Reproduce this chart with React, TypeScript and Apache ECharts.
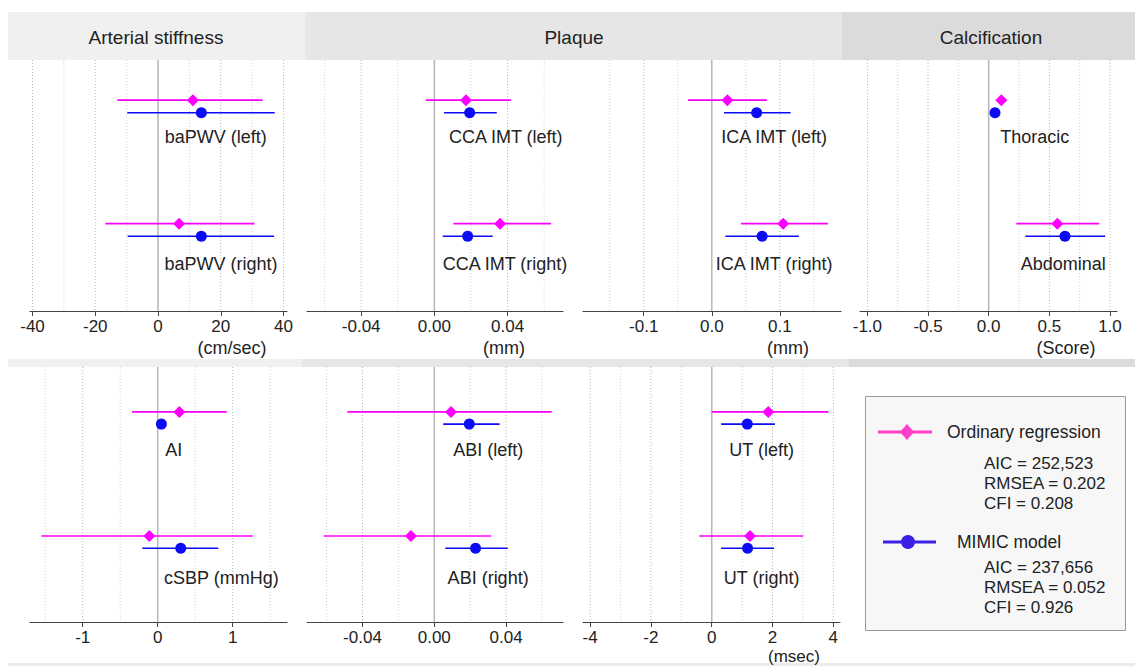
import React, { useEffect, useRef } from 'react';
import * as echarts from 'echarts';

const FONT = 'Liberation Sans, Arial, sans-serif';
const OR_COLOR = '#ff00ff';
const MM_COLOR = '#0c0cf2';

// ---------- data ----------
// Arterial stiffness (cm/sec)
const baLabels = ['baPWV (left)', 'baPWV (right)'];
const baOrEst = [11.1, 6.7];
const baOrLo = [-13.0, -16.8];
const baOrHi = [33.3, 30.7];
const baMmEst = [13.8, 13.8];
const baMmLo = [-9.8, -9.7];
const baMmHi = [37.2, 37.0];

// Plaque CCA IMT (mm)
const ccaLabels = ['CCA IMT (left)', 'CCA IMT (right)'];
const ccaOrEst = [0.0173, 0.0359];
const ccaOrLo = [-0.0047, 0.0104];
const ccaOrHi = [0.0419, 0.0638];
const ccaMmEst = [0.0193, 0.0182];
const ccaMmLo = [0.0053, 0.0046];
const ccaMmHi = [0.0341, 0.0319];

// Plaque ICA IMT (mm)
const icaLabels = ['ICA IMT (left)', 'ICA IMT (right)'];
const icaOrEst = [0.023, 0.105];
const icaOrLo = [-0.035, 0.043];
const icaOrHi = [0.081, 0.171];
const icaMmEst = [0.066, 0.074];
const icaMmLo = [0.018, 0.02];
const icaMmHi = [0.116, 0.128];

// Calcification (Score)
const calLabels = ['Thoracic', 'Abdominal'];
const calOrEst = [0.104, 0.566];
const calOrLo = [0.085, 0.228];
const calOrHi = [0.125, 0.912];
const calMmEst = [0.052, 0.629];
const calMmLo = [0.035, 0.302];
const calMmHi = [0.07, 0.961];

// AI / cSBP
const aiLabels = ['AI', 'cSBP (mmHg)'];
const aiOrEst = [0.289, -0.112];
const aiOrLo = [-0.342, -1.552];
const aiOrHi = [0.92, 1.267];
const aiMmEst = [0.049, 0.307];
const aiMmLo = [0.015, -0.205];
const aiMmHi = [0.085, 0.808];

// ABI
const abiLabels = ['ABI (left)', 'ABI (right)'];
const abiOrEst = [0.0093, -0.013];
const abiOrLo = [-0.0484, -0.0616];
const abiOrHi = [0.0654, 0.0317];
const abiMmEst = [0.0195, 0.023];
const abiMmLo = [0.005, 0.0061];
const abiMmHi = [0.0364, 0.0409];

// UT (msec)
const utLabels = ['UT (left)', 'UT (right)'];
const utOrEst = [1.86, 1.26];
const utOrLo = [0.0, -0.41];
const utOrHi = [3.84, 3.01];
const utMmEst = [1.17, 1.18];
const utMmLo = [0.31, 0.31];
const utMmHi = [2.08, 2.05];

// tick values
const baTicks = [-40, -20, 0, 20, 40];
const baMinor = [-30, -10, 10, 30];
const mmTicks = [-0.04, 0, 0.04];
const mmMinor = [-0.06, -0.02, 0.02, 0.06];
const icaTicks = [-0.1, 0, 0.1];
const icaMinor = [-0.15, -0.05, 0.05, 0.15];
const calTicks = [-1, -0.5, 0, 0.5, 1];
const calMinor = [-0.75, -0.25, 0.25, 0.75];
const aiTicks = [-1, 0, 1];
const aiMinor = [-1.5, -0.5, 0.5, 1.5];
const utTicks = [-4, -2, 0, 2, 4];
const utMinor = [-3, -1, 1, 3];

// ---------- layout ----------
const TOP = { top: 60, height: 251, rowY: [1.85, 6.77], gap: 0.25, labelOff: [1.22, 1.36] };
const BOT = { top: 367, height: 255, rowY: [2.0, 6.87], gap: 0.24, labelOff: [1.25, 1.4] };

const panels = [
  { row: TOP, left: 30, width: 257, min: -40.8, max: 41.1, labels: baLabels, orEst: baOrEst, orLo: baOrLo, orHi: baOrHi, mmEst: baMmEst, mmLo: baMmLo, mmHi: baMmHi, ticks: baTicks, minor: baMinor, dec: 0, labelX: [18.4, 20.1] },
  { row: TOP, left: 307, width: 256, min: -0.0696, max: 0.0703, labels: ccaLabels, orEst: ccaOrEst, orLo: ccaOrLo, orHi: ccaOrHi, mmEst: ccaMmEst, mmLo: ccaMmLo, mmHi: ccaMmHi, ticks: mmTicks, minor: mmMinor, dec: 2, labelX: [0.039, 0.0386] },
  { row: TOP, left: 583, width: 258, min: -0.1893, max: 0.19, labels: icaLabels, orEst: icaOrEst, orLo: icaOrLo, orHi: icaOrHi, mmEst: icaMmEst, mmLo: icaMmLo, mmHi: icaMmHi, ticks: icaTicks, minor: icaMinor, dec: 1, labelX: [0.0916, 0.0916] },
  { row: TOP, left: 860, width: 257, min: -1.061, max: 1.058, labels: calLabels, orEst: calOrEst, orLo: calOrLo, orHi: calOrHi, mmEst: calMmEst, mmLo: calMmLo, mmHi: calMmHi, ticks: calTicks, minor: calMinor, dec: 1, labelX: [0.38, 0.615] },
  { row: BOT, left: 30, width: 257, min: -1.703, max: 1.724, labels: aiLabels, orEst: aiOrEst, orLo: aiOrLo, orHi: aiOrHi, mmEst: aiMmEst, mmLo: aiMmLo, mmHi: aiMmHi, ticks: aiTicks, minor: aiMinor, dec: 0, labelX: [0.215, 0.85] },
  { row: BOT, left: 307, width: 256, min: -0.0709, max: 0.0717, labels: abiLabels, orEst: abiOrEst, orLo: abiOrLo, orHi: abiOrHi, mmEst: abiMmEst, mmLo: abiMmLo, mmHi: abiMmHi, ticks: mmTicks, minor: mmMinor, dec: 2, labelX: [0.03, 0.03] },
  { row: BOT, left: 583, width: 257, min: -4.234, max: 4.22, labels: utLabels, orEst: utOrEst, orLo: utOrLo, orHi: utOrHi, mmEst: utMmEst, mmLo: utMmLo, mmHi: utMmHi, ticks: utTicks, minor: utMinor, dec: 0, labelX: [1.64, 1.64] },
];

function buildOption() {
  const grid: any[] = [];
  const xAxis: any[] = [];
  const yAxis: any[] = [];
  const series: any[] = [];

  panels.forEach((p, i) => {
    grid.push({ left: p.left, width: p.width, top: p.row.top, height: p.row.height });
    xAxis.push({
      type: 'value', gridIndex: i, min: p.min, max: p.max,
      splitLine: { show: false },
      axisLine: { show: true, onZero: false, lineStyle: { color: '#444', width: 1.2 } },
      axisTick: { show: true, customValues: p.ticks, length: 5, lineStyle: { color: '#444' } },
      axisLabel: {
        customValues: p.ticks, margin: 7, fontSize: 17, fontFamily: FONT, color: '#222',
        formatter: (v: number) => (Math.abs(v) < 1e-9 ? 0 : v).toFixed(p.dec),
      },
    });
    yAxis.push({ type: 'value', gridIndex: i, min: 0, max: 10, inverse: true, show: false });

    const lineSeries = (vals: number[], color: string, dashed: boolean, width: number) => ({
      type: 'custom', xAxisIndex: i, yAxisIndex: i, silent: true, z: 1,
      data: vals.map((v) => [v]),
      encode: { x: 0 },
      renderItem: (params: any, api: any) => {
        const pt = api.coord([api.value(0), 0]);
        const cs = params.coordSys;
        return {
          type: 'line',
          shape: { x1: pt[0], y1: cs.y, x2: pt[0], y2: cs.y + cs.height },
          style: { stroke: color, lineWidth: width, lineDash: dashed ? [1, 2] : null },
        };
      },
    });
    series.push(lineSeries(p.minor, '#d4d4d4', true, 1));
    series.push(lineSeries(p.ticks.filter((t) => t !== 0), '#b4b4b4', true, 1));
    series.push(lineSeries([0], '#b9b9b9', false, 1.6));

    const rows = p.row;
    const errSeries = (lo: number[], hi: number[], sign: number, color: string) => ({
      type: 'custom', xAxisIndex: i, yAxisIndex: i, silent: true, z: 2,
      data: lo.map((l, k) => [l, hi[k], rows.rowY[k] + sign * rows.gap]),
      encode: { x: [0, 1], y: 2 },
      renderItem: (params: any, api: any) => {
        const a = api.coord([api.value(0), api.value(2)]);
        const b = api.coord([api.value(1), api.value(2)]);
        return { type: 'line', shape: { x1: a[0], y1: a[1], x2: b[0], y2: b[1] }, style: { stroke: color, lineWidth: 1.6 } };
      },
    });
    series.push(errSeries(p.orLo, p.orHi, -1, OR_COLOR));
    series.push(errSeries(p.mmLo, p.mmHi, 1, MM_COLOR));
    series.push({
      type: 'scatter', xAxisIndex: i, yAxisIndex: i, z: 3, silent: true,
      symbol: 'diamond', symbolSize: [12, 12],
      itemStyle: { color: OR_COLOR, opacity: 1 },
      data: p.orEst.map((v, k) => [v, rows.rowY[k] - rows.gap]),
    });
    series.push({
      type: 'scatter', xAxisIndex: i, yAxisIndex: i, z: 3, silent: true,
      symbol: 'circle', symbolSize: 11,
      itemStyle: { color: MM_COLOR, opacity: 1 },
      data: p.mmEst.map((v, k) => [v, rows.rowY[k] + rows.gap]),
    });
    series.push({
      type: 'custom', xAxisIndex: i, yAxisIndex: i, silent: true, z: 4,
      data: p.labels.map((name, k) => [p.labelX[k], rows.rowY[k] + rows.labelOff[k], name]),
      encode: { x: 0, y: 1 },
      renderItem: (params: any, api: any) => {
        const c = api.coord([api.value(0), api.value(1)]);
        return {
          type: 'text', x: c[0], y: c[1],
          style: { text: p.labels[params.dataIndex], textAlign: 'center', textVerticalAlign: 'middle', fontSize: 18, fontFamily: FONT, fill: '#222' },
        };
      },
    });
  });

  const txt = (text: string, x: number, y: number, size: number, align = 'center') => ({
    type: 'text', x, y, silent: true,
    style: { text, textAlign: align, textVerticalAlign: 'middle', fontSize: size, fontFamily: FONT, fill: '#222' },
  });
  const rect = (x: number, y: number, w: number, h: number, fill: string) => ({
    type: 'rect', silent: true, shape: { x, y, width: w, height: h }, style: { fill },
  });

  const graphic: any[] = [
    rect(8, 12, 297, 48, '#f0f0f0'),
    rect(305, 12, 537, 48, '#e6e6e6'),
    rect(842, 12, 293, 48, '#dbdbdb'),
    rect(8, 359, 294, 8, '#f0f0f0'),
    rect(302, 359, 547, 8, '#e6e6e6'),
    rect(849, 359, 286, 8, '#dbdbdb'),
    rect(8, 663, 1127, 3, '#ececec'),
    txt('Arterial stiffness', 156, 37, 19),
    txt('Plaque', 574, 37, 19),
    txt('Calcification', 991, 37, 19),
    txt('(cm/sec)', 232, 348, 18),
    txt('(mm)', 504, 348, 18),
    txt('(mm)', 788, 348, 18),
    txt('(Score)', 1066, 348, 18),
    txt('(msec)', 794, 656, 17),
    {
      type: 'rect', silent: true, shape: { x: 865.5, y: 396.5, width: 260, height: 234 },
      style: { fill: '#f7f7f7', stroke: '#9a9a9a', lineWidth: 1 },
    },
    { type: 'line', silent: true, shape: { x1: 878, y1: 432, x2: 932, y2: 432 }, style: { stroke: '#ff3fc8', lineWidth: 3 } },
    { type: 'polygon', silent: true, shape: { points: [[907, 424], [914, 432], [907, 440], [900, 432]] }, style: { fill: '#ff3fc8' } },
    txt('Ordinary regression', 947, 432, 17.5, 'left'),
    txt('AIC = 252,523', 984, 463, 17, 'left'),
    txt('RMSEA = 0.202', 984, 483, 17, 'left'),
    txt('CFI = 0.208', 984, 503, 17, 'left'),
    { type: 'line', silent: true, shape: { x1: 883, y1: 542, x2: 936, y2: 542 }, style: { stroke: '#3a1fe6', lineWidth: 3 } },
    { type: 'circle', silent: true, shape: { cx: 908, cy: 542, r: 7 }, style: { fill: '#3a1fe6' } },
    txt('MIMIC model', 957, 542, 17.5, 'left'),
    txt('AIC = 237,656', 984, 567, 17, 'left'),
    txt('RMSEA = 0.052', 984, 587, 17, 'left'),
    txt('CFI = 0.926', 984, 607, 17, 'left'),
  ];

  return { animation: false, backgroundColor: '#ffffff', grid, xAxis, yAxis, series, graphic };
}

export default function App() {
  const ref = useRef<HTMLDivElement>(null);
  useEffect(() => {
    if (!ref.current) return;
    const chart = echarts.init(ref.current, null, { renderer: 'svg' });
    chart.setOption(buildOption() as any);
    return () => chart.dispose();
  }, []);
  return <div ref={ref} style={{ position: 'absolute', left: 0, top: 0, width: 1135, height: 666 }} />;
}
